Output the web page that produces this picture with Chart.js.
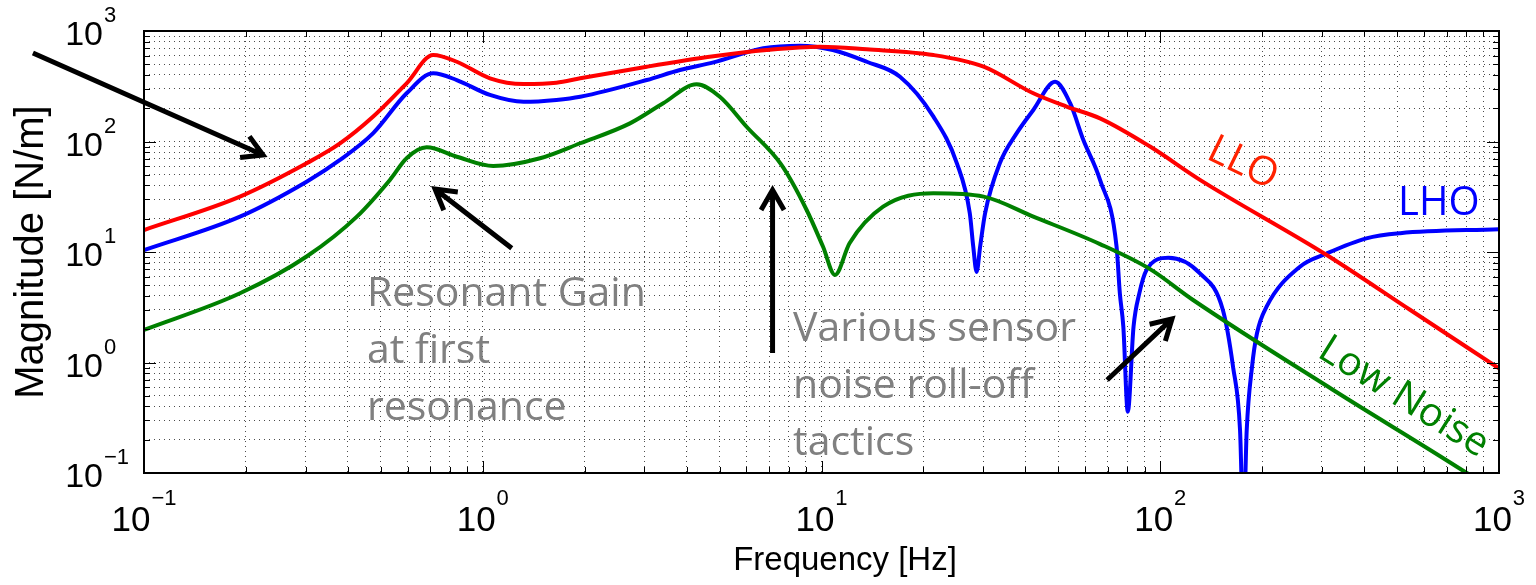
<!DOCTYPE html>
<html>
<head>
<meta charset="utf-8">
<title>Blend filter magnitude</title>
<script src="https://cdn.jsdelivr.net/npm/chart.js@4/dist/chart.umd.min.js"></script>
<style>
  html, body { margin: 0; padding: 0; background: #fff; }
  #wrap { width: 1536px; height: 585px; position: relative; }
</style>
</head>
<body>
<div id="wrap"><canvas id="chart"></canvas></div>
<script>
// LLO filter, frequency [Hz] and magnitude [N/m]
const lloFreq = [0.1, 0.192, 0.302, 0.379, 0.475, 0.596, 0.714, 0.838, 1.05, 1.32, 1.65, 1.94, 3.05, 4.8,
  6.89, 9.9, 13.6, 21.4, 30.1, 42.2, 52.9, 66.4, 93.3, 131, 310, 546, 1000];
const lloMag = [15.8, 31.7, 63.5, 96, 168, 336, 606, 527, 373, 331, 340, 373, 475, 590,
  673, 721, 682, 606, 475, 273, 207, 162, 90, 45, 9.4, 3.0, 0.886];

// LHO filter
const lhoFreq = [0.1, 0.192, 0.302, 0.379, 0.475, 0.596, 0.714, 0.838, 1.05, 1.32, 1.65, 1.94, 3.05, 3.82,
  4.8, 6.73, 8.64, 10.8, 13.6, 17.05, 21.4, 25.1, 27.4, 28.05, 28.7, 29.4, 30.4, 33.6, 37.7, 42.2, 48.9,
  54.2, 59.3, 66.4, 74.3, 76, 77.8, 80.2, 83.4, 86.7, 91.2, 105.7, 131, 153, 164, 172, 176, 180, 186.6,
  193, 206, 259, 310, 406, 511, 1000];
const lhoMag = [10.4, 20.9, 43.3, 68.1, 119, 273, 414, 360, 264, 229, 238, 254, 360, 444,
  520, 697, 736, 673, 527, 386, 168, 63.5, 22.4, 11.2, 6.6, 11.2, 22.4, 63.5, 119, 193, 347,
  222, 103, 44.9, 11.2, 4.2, 2.11, 0.359, 2.11, 4.2, 6.9, 8.87, 6.4, 3.0, 0.916, 0.245, 0.03, 0.245, 0.916,
  1.84, 3.2, 7.4, 9.7, 13.3, 14.8, 16.1];

// Low noise filter
const lowNoiseFreq = [0.1, 0.192, 0.302, 0.425, 0.532, 0.596, 0.683, 0.838, 1.074, 1.476, 1.94, 2.72,
  3.41, 4.28, 5.01, 6.01, 7.6, 9.04, 10.1, 10.96, 12.1, 15.2, 21.4, 30.1, 42.2, 66.4, 93.3, 125, 324,
  803, 1000];
const lowNoiseMag = [1.97, 4.23, 9.1, 20.9, 44.9, 70.5, 88.5, 72.8, 60, 70.5, 96.4, 146,
  222, 329, 254, 136, 62, 24, 11.2, 6.2, 12, 25.7, 34, 31.7, 20.9, 11.8, 7.0, 3.68, 0.564,
  0.1, 0.064];

// decade ticks shared by both log axes
const tickValues = [0.1, 1, 10, 100, 1000];
const tickExponents = ['\u22121', '0', '1', '2', '3'];
const minorSteps = [2, 3, 4, 5, 6, 7, 8, 9];

const noteResonant = ['Resonant Gain', 'at first', 'resonance'];
const noteRolloff = ['Various sensor', 'noise roll-off', 'tactics'];

const toPoints = (xs, ys) => xs.map((f, i) => ({x: f, y: ys[i]}));

// every decade plus 2..9 inside it, for the dotted grid
function gridTicks() {
  const out = [];
  tickValues.forEach((v, i) => {
    out.push({value: v, major: true});
    if (i < tickValues.length - 1) {
      minorSteps.forEach(k => out.push({value: +(v * k).toPrecision(3), major: false}));
    }
  });
  return out;
}

const SANS = '"Liberation Sans", Arial, Helvetica, sans-serif';
const NOTE = '"Open Sans", "Noto Sans", sans-serif';

// curve labels and annotation arrows, placed in axis units
const curveLabels = [
  {text: 'LLO', f: 135.5, m: 70.9, angle: 26, color: '#ff2200'},
  {text: 'LHO', f: 503.6, m: 21.6, angle: 0, color: '#0000ff'},
  {text: 'Low Noise', f: 288.3, m: 1.145, angle: 32, color: '#008000'}
];
const arrows = [
  {from: [0.047, 632], to: [0.2245, 75.5]},
  {from: [1.218, 10.8], to: [0.723, 37.2]},
  {from: [7.17, 1.22], to: [7.17, 36.4]},
  {from: [69.7, 0.695], to: [108.3, 2.48]}
];

function drawPow(ctx, x, yBase, yExp, exp, bigFont, smallFont, align) {
  ctx.font = bigFont;
  const w10 = ctx.measureText('10').width;
  ctx.font = smallFont;
  const wExp = ctx.measureText(exp).width;
  let start;
  if (align === 'center') start = x - (w10 + 1 + wExp) / 2;
  else start = x - w10;
  ctx.textAlign = 'left';
  ctx.textBaseline = 'alphabetic';
  ctx.font = bigFont;
  ctx.fillText('10', start, yBase);
  ctx.font = smallFont;
  ctx.fillText(exp, start + w10 + 1, yExp);
}

function drawArrow(ctx, x1, y1, x2, y2) {
  const ang = Math.atan2(y2 - y1, x2 - x1);
  const head = 23;
  ctx.beginPath();
  ctx.moveTo(x1, y1);
  ctx.lineTo(x2, y2);
  ctx.moveTo(x2 - head * Math.cos(ang - Math.PI / 6), y2 - head * Math.sin(ang - Math.PI / 6));
  ctx.lineTo(x2, y2);
  ctx.lineTo(x2 - head * Math.cos(ang + Math.PI / 6), y2 - head * Math.sin(ang + Math.PI / 6));
  ctx.stroke();
}

const frameAndLabels = {
  id: 'frameAndLabels',
  afterDraw(chart) {
    const {ctx, chartArea: a, scales: {x, y}} = chart;
    ctx.save();

    // tick marks pointing into the plot on all four sides
    ctx.strokeStyle = '#000';
    ctx.lineWidth = 1;
    ctx.beginPath();
    x.ticks.forEach(t => {
      const px = Math.round(x.getPixelForValue(t.value)) + 0.5;
      const len = t.major ? 12 : 6;
      ctx.moveTo(px, a.bottom); ctx.lineTo(px, a.bottom - len);
      ctx.moveTo(px, a.top); ctx.lineTo(px, a.top + len);
    });
    y.ticks.forEach(t => {
      const py = Math.round(y.getPixelForValue(t.value)) + 0.5;
      const len = t.major ? 12 : 6;
      ctx.moveTo(a.left, py); ctx.lineTo(a.left + len, py);
      ctx.moveTo(a.right, py); ctx.lineTo(a.right - len, py);
    });
    ctx.stroke();

    ctx.lineWidth = 2;
    ctx.strokeRect(a.left, a.top, a.right - a.left, a.bottom - a.top);

    // decade labels as 10 with a raised exponent
    ctx.fillStyle = '#000';
    tickValues.forEach((v, i) => {
      const px = x.getPixelForValue(v);
      drawPow(ctx, px, a.bottom + 58, a.bottom + 32, tickExponents[i], '35px ' + SANS, '22px ' + SANS, 'center');
      const py = y.getPixelForValue(v);
      drawPow(ctx, a.left - 41, py + 14, py - 9, tickExponents[i], '34px ' + SANS, '22px ' + SANS, 'right');
    });

    // axis titles
    ctx.textAlign = 'center';
    ctx.textBaseline = 'alphabetic';
    ctx.font = '33px ' + SANS;
    ctx.fillText('Frequency [Hz]', 845, a.bottom + 97);
    ctx.save();
    ctx.translate(43, (a.top + a.bottom) / 2);
    ctx.rotate(-Math.PI / 2);
    ctx.font = '40px ' + SANS;
    ctx.fillText('Magnitude [N/m]', 0, 0);
    ctx.restore();

    // grey notes
    ctx.fillStyle = '#808080';
    ctx.font = '41px ' + NOTE;
    ctx.textAlign = 'left';
    const nr = [x.getPixelForValue(0.455), y.getPixelForValue(3.25)];
    noteResonant.forEach((s, i) => ctx.fillText(s, nr[0], nr[1] + i * 57));
    const nv = [x.getPixelForValue(8.24), y.getPixelForValue(1.565)];
    noteRolloff.forEach((s, i) => ctx.fillText(s, nv[0], nv[1] + i * 57));

    // curve names
    ctx.font = '40px ' + NOTE;
    curveLabels.forEach(l => {
      ctx.save();
      ctx.translate(x.getPixelForValue(l.f), y.getPixelForValue(l.m));
      ctx.rotate(l.angle * Math.PI / 180);
      ctx.fillStyle = l.color;
      ctx.fillText(l.text, 0, 0);
      ctx.restore();
    });

    // arrows
    ctx.strokeStyle = '#000';
    ctx.lineWidth = 5;
    ctx.lineJoin = 'miter';
    arrows.forEach(ar => {
      drawArrow(ctx,
        x.getPixelForValue(ar.from[0]), y.getPixelForValue(ar.from[1]),
        x.getPixelForValue(ar.to[0]), y.getPixelForValue(ar.to[1]));
    });

    ctx.restore();
  }
};

const logAxis = {
  type: 'logarithmic',
  min: 0.1,
  max: 1000,
  afterBuildTicks: scale => { scale.ticks = gridTicks(); },
  ticks: {display: false},
  grid: {color: 'rgba(0,0,0,0.7)', lineWidth: 1, drawTicks: false},
  border: {display: false, dash: [1, 4]}
};

const lineStyle = {
  borderWidth: 4,
  pointRadius: 0,
  fill: false,
  cubicInterpolationMode: 'monotone',
  clip: 0
};

new Chart(document.getElementById('chart'), {
  type: 'line',
  data: {
    datasets: [
      Object.assign({label: 'Low Noise', data: toPoints(lowNoiseFreq, lowNoiseMag), borderColor: '#008000'}, lineStyle),
      Object.assign({label: 'LLO', data: toPoints(lloFreq, lloMag), borderColor: '#ff0000'}, lineStyle),
      Object.assign({label: 'LHO', data: toPoints(lhoFreq, lhoMag), borderColor: '#0000ff'}, lineStyle)
    ]
  },
  options: {
    responsive: true,
    maintainAspectRatio: false,
    animation: false,
    layout: {padding: {left: 144, top: 31, right: 37, bottom: 112}},
    plugins: {legend: {display: false}, tooltip: {enabled: false}},
    scales: {x: logAxis, y: Object.assign({}, logAxis)}
  },
  plugins: [frameAndLabels]
});
</script>
</body>
</html>
